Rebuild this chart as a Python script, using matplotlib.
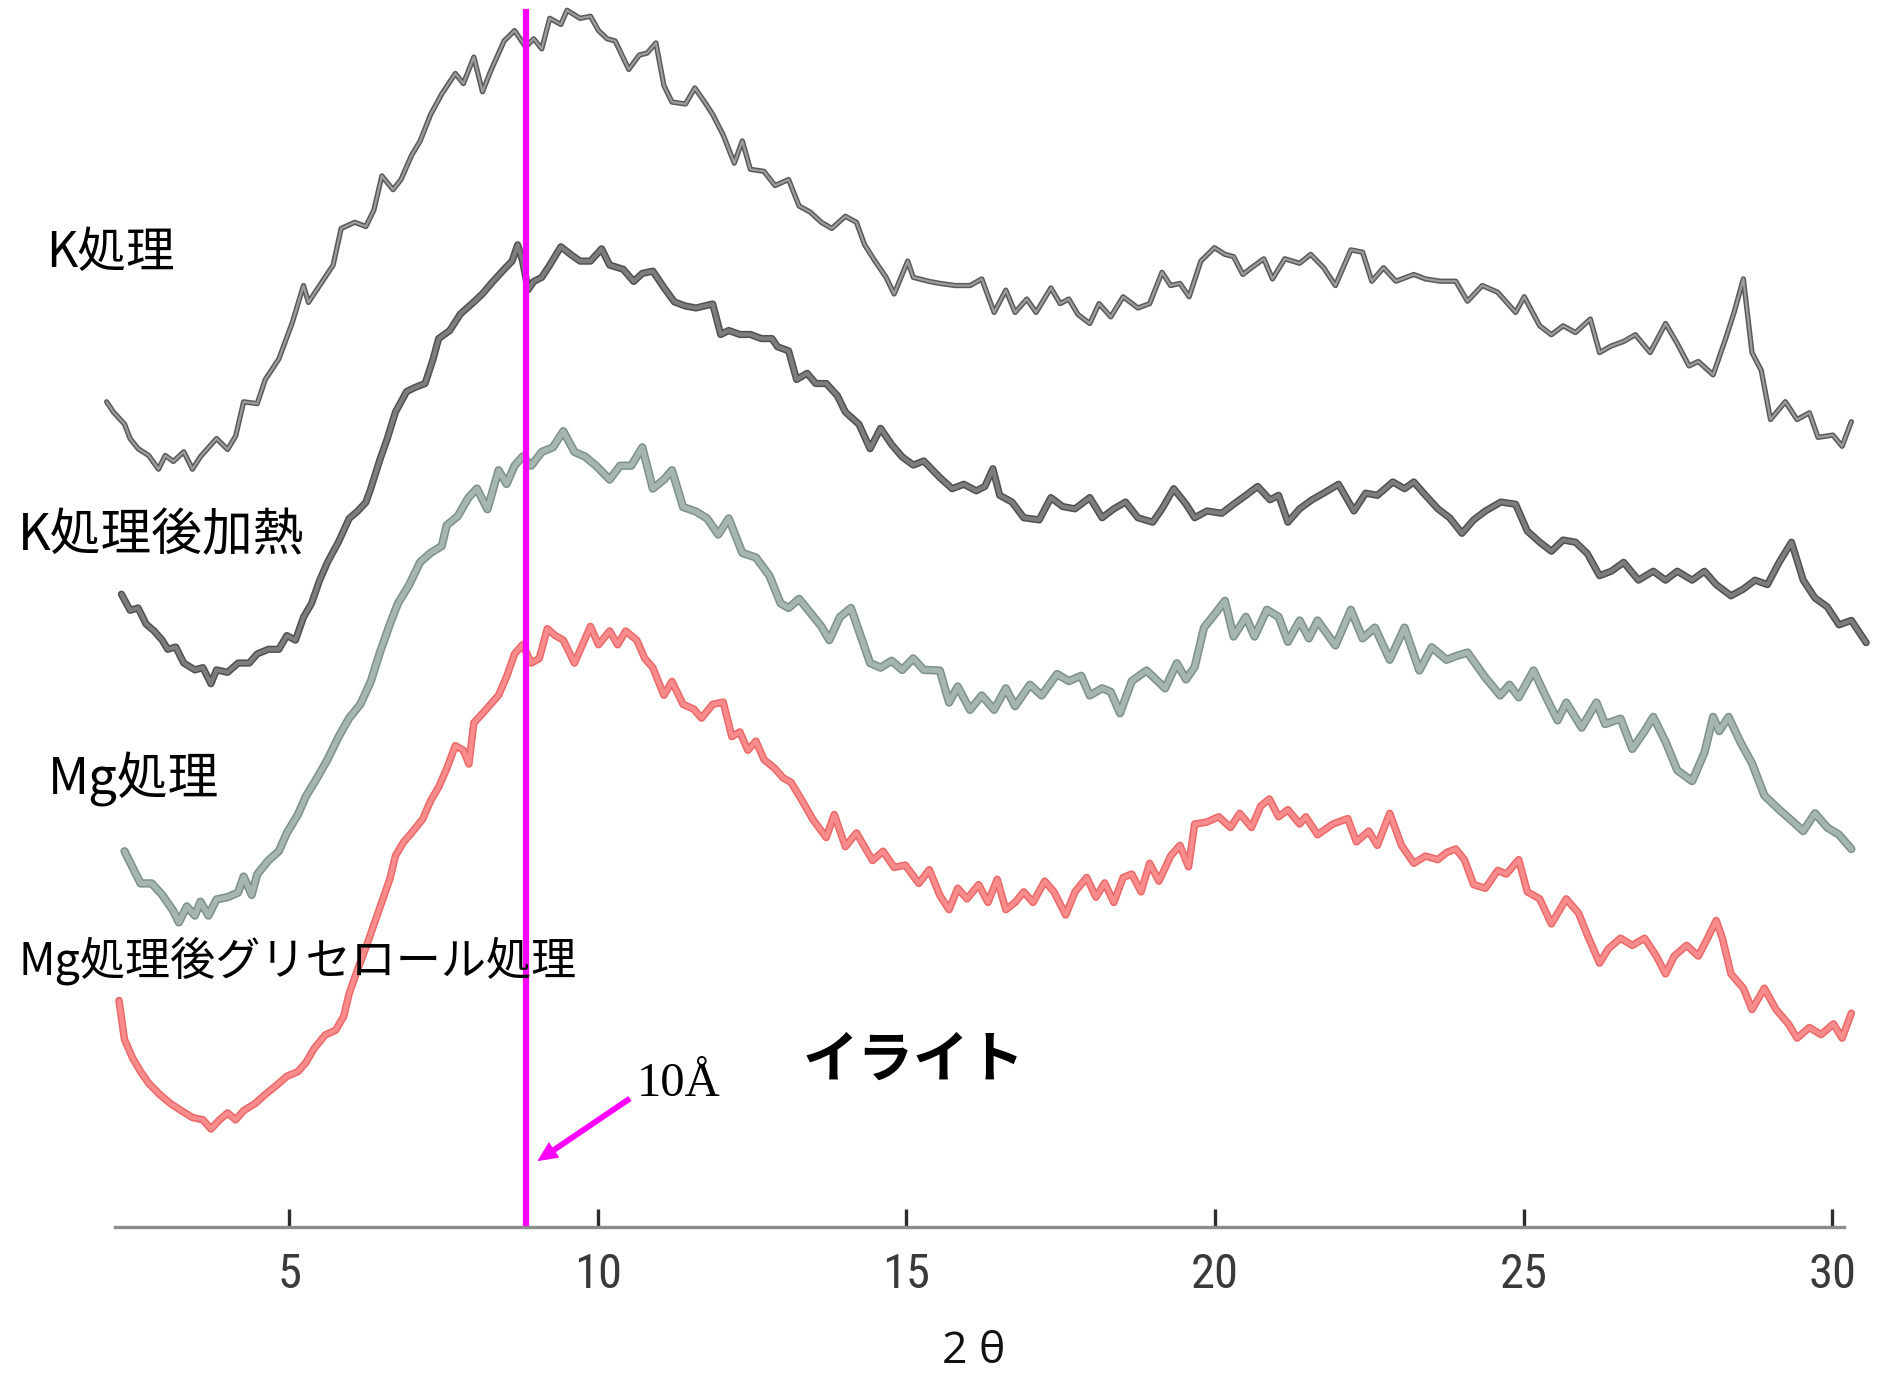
import matplotlib
matplotlib.use("Agg")
import matplotlib.pyplot as plt
from matplotlib import font_manager as fm

# ---------------- data (2θ in degrees, intensity in arbitrary stacked units) ----------------
k_2theta = [2.04, 2.15, 2.33, 2.42, 2.55, 2.72, 2.88, 2.99, 3.12, 3.29, 3.43, 3.56, 3.82, 4.0, 4.13,
            4.26, 4.48, 4.61, 4.83, 5.05, 5.23, 5.31, 5.49, 5.71, 5.84, 6.06, 6.24, 6.37, 6.5, 6.68,
            6.81, 6.98, 7.12, 7.29, 7.47, 7.69, 7.82, 7.99, 8.13, 8.26, 8.48, 8.65, 8.83, 8.96, 9.09,
            9.22, 9.4, 9.5, 9.71, 9.88, 10.01, 10.15, 10.28, 10.5, 10.67, 10.8, 10.94, 11.07, 11.2,
            11.42, 11.57, 11.73, 11.86, 12.03, 12.21, 12.34, 12.47, 12.69, 12.87, 13.09, 13.26, 13.44,
            13.62, 13.79, 14.01, 14.19, 14.32, 14.49, 14.67, 14.8, 15.02, 15.11, 15.37, 15.54, 15.79,
            16.03, 16.22, 16.42, 16.61, 16.76, 16.95, 17.1, 17.34, 17.49, 17.63, 17.78, 17.97, 18.12,
            18.31, 18.51, 18.75, 18.94, 19.14, 19.28, 19.43, 19.58, 19.77, 19.99, 20.16, 20.3, 20.45,
            20.59, 20.79, 20.93, 21.13, 21.37, 21.55, 21.76, 21.95, 22.2, 22.39, 22.54, 22.73, 22.93,
            23.22, 23.41, 23.65, 23.9, 24.09, 24.33, 24.58, 24.87, 25.01, 25.26, 25.45, 25.64, 25.84,
            26.08, 26.23, 26.42, 26.62, 26.81, 27.05, 27.3, 27.49, 27.68, 27.83, 28.07, 28.27, 28.41,
            28.56, 28.7, 28.85, 29.0, 29.24, 29.43, 29.63, 29.77, 30.01, 30.16, 30.31]
k_counts = [684.5, 676, 666, 654, 645.6, 640, 628.6, 640, 635, 643, 628.6, 639, 654, 645, 656,
            684.5, 683, 703, 720, 750.5, 781, 767, 781, 798, 828.4, 833.5, 830, 843.6, 872, 860.6,
            869, 889, 901, 923, 940, 957, 948.6, 970.6, 941.8, 958.7, 984, 992.6, 979, 985.8, 977.4,
            1002.8, 997.7, 1009.5, 1002.8, 1004.5, 992.6, 985.8, 984, 960.4, 972.3, 974, 982.4, 947, 933.3,
            931.7, 945, 933.3, 923, 906, 882.6, 901, 877.5, 875.8, 864, 869, 847, 842,
            833.5, 828.4, 838.5, 833.5, 815, 801.3, 787.8, 774, 801.3, 787.8, 784.4, 782.8, 781,
            781, 786.5, 758.7, 777.2, 758.7, 769.8, 758.7, 779, 766, 769.8, 756.9, 749.5, 766,
            755, 771.7, 762.4, 766, 792, 781, 782.8, 771.7, 801.3, 812.4, 806.9, 805, 790.2,
            795.8, 803.2, 786.5, 803.2, 799.5, 806.9, 795.8, 781, 810.6, 808.7, 784.6, 795.8, 784.6,
            790.2, 786.5, 784.6, 784.6, 768, 781, 775.4, 758.7, 771.7, 747.6, 740.2, 747.6, 742,
            753.2, 725.4, 730.9, 734.6, 740.2, 725.4, 749.5, 732.8, 714.3, 718, 706.9, 736.5, 758.7,
            786.5, 725.4, 710.6, 669.8, 684.6, 669.8, 675.4, 655, 656.9, 647.6, 668]

kheat_2theta = [2.28, 2.42, 2.55, 2.68, 2.81, 2.94, 3.03, 3.16, 3.29, 3.47, 3.6, 3.73, 3.82, 4.0, 4.17,
                4.35, 4.48, 4.66, 4.83, 4.96, 5.1, 5.23, 5.36, 5.49, 5.62, 5.8, 5.97, 6.1, 6.24, 6.32,
                6.46, 6.59, 6.72, 6.9, 7.03, 7.2, 7.33, 7.42, 7.6, 7.77, 7.99, 8.13, 8.3, 8.48, 8.61,
                8.7, 8.78, 8.87, 8.96, 9.09, 9.22, 9.4, 9.57, 9.71, 9.88, 10.06, 10.19, 10.41, 10.58,
                10.72, 10.89, 11.07, 11.24, 11.42, 11.59, 11.86, 11.99, 12.12, 12.3, 12.47, 12.65, 12.82,
                12.91, 13.09, 13.22, 13.39, 13.53, 13.7, 13.88, 14.01, 14.23, 14.41, 14.58, 14.76, 14.93,
                15.11, 15.28, 15.54, 15.74, 15.93, 16.13, 16.27, 16.4, 16.51, 16.71, 16.9, 17.15, 17.34,
                17.53, 17.73, 17.97, 18.17, 18.36, 18.55, 18.75, 18.99, 19.14, 19.33, 19.53, 19.67, 19.87,
                20.11, 20.3, 20.5, 20.69, 20.89, 21.03, 21.18, 21.37, 21.57, 21.76, 22.0, 22.25, 22.44,
                22.63, 22.88, 23.07, 23.22, 23.41, 23.61, 23.8, 24.0, 24.19, 24.38, 24.63, 24.87, 25.06,
                25.26, 25.45, 25.64, 25.84, 26.03, 26.23, 26.42, 26.62, 26.86, 27.1, 27.3, 27.49, 27.73,
                27.93, 28.12, 28.36, 28.56, 28.75, 28.95, 29.14, 29.34, 29.53, 29.72, 29.92, 30.11, 30.31,
                30.55]
kheat_counts = [524.8, 511.5, 513.4, 500, 494.3, 486.7, 479.1, 481, 467.7, 462, 463.9, 450.5, 462, 460, 467.7,
                467.7, 475.3, 479.1, 479.1, 490.5, 486.7, 505.8, 517.2, 536.2, 551.5, 568.6, 587.7, 593.4, 601, 612.5,
                635.3, 654.4, 676, 693, 696.3, 699.7, 720, 737, 743.7, 757.3, 767.4, 774.2, 784.4, 794.5, 801.3,
                814.8, 801.3, 777.6, 784.4, 787.8, 798, 813.2, 806.4, 801.3, 801.3, 811.5, 798, 794.5, 784.4,
                791.1, 793, 779.3, 767.4, 764, 762.4, 765.7, 740.4, 743.7, 740.4, 740.4, 737, 737,
                730.2, 726.8, 703, 708.2, 699.7, 699.7, 689.6, 676, 665.9, 645.6, 662.5, 649, 638.8,
                632, 635.4, 621.7, 612.4, 616.1, 610.6, 614.3, 629, 606.9, 601.3, 588.3, 586.5, 605,
                597.6, 595.7, 605, 588.3, 595.7, 601.3, 588.3, 584.6, 595.7, 612.4, 599.5, 588.3, 593.9,
                592, 599.5, 606.9, 614.3, 603.2, 606.9, 584.6, 595.7, 603.2, 608.7, 616.1, 593.9, 608.7,
                606.9, 618, 612.4, 618, 606.9, 595.7, 588.3, 575.4, 586.5, 593.9, 601.3, 599.5, 577.2,
                568, 560.5, 569.8, 568, 558.7, 540.2, 543.9, 551.3, 536.5, 543.9, 536.5, 543.9, 536.5,
                543.9, 532.8, 523.5, 529.1, 536.5, 532.8, 551.3, 568, 536.5, 521.7, 514.3, 499.4, 503.1,
                484.6]

mg_2theta = [2.33, 2.46, 2.59, 2.77, 2.94, 3.12, 3.21, 3.34, 3.47, 3.56, 3.69, 3.82, 4.0, 4.17, 4.26,
             4.39, 4.48, 4.66, 4.83, 4.96, 5.14, 5.27, 5.45, 5.62, 5.8, 5.97, 6.15, 6.32, 6.46, 6.63,
             6.76, 6.94, 7.12, 7.29, 7.47, 7.55, 7.73, 7.9, 8.04, 8.21, 8.39, 8.52, 8.65, 8.78, 8.92,
             9.09, 9.27, 9.44, 9.62, 9.79, 9.97, 10.19, 10.36, 10.54, 10.72, 10.89, 11.07, 11.2, 11.38,
             11.59, 11.77, 11.95, 12.12, 12.34, 12.56, 12.78, 12.96, 13.09, 13.26, 13.44, 13.62, 13.75,
             13.92, 14.1, 14.23, 14.41, 14.58, 14.76, 14.93, 15.11, 15.28, 15.54, 15.69, 15.83, 16.03,
             16.22, 16.42, 16.61, 16.76, 17.0, 17.19, 17.44, 17.63, 17.83, 17.97, 18.17, 18.31, 18.46,
             18.65, 18.89, 19.19, 19.38, 19.53, 19.67, 19.82, 19.96, 20.16, 20.3, 20.5, 20.64, 20.84,
             21.03, 21.18, 21.37, 21.52, 21.66, 21.95, 22.2, 22.39, 22.59, 22.83, 23.07, 23.31, 23.51,
             23.75, 23.9, 24.09, 24.38, 24.62, 24.77, 24.92, 25.16, 25.35, 25.55, 25.69, 25.94, 26.18,
             26.32, 26.57, 26.76, 26.96, 27.1, 27.3, 27.49, 27.73, 27.93, 28.07, 28.17, 28.32, 28.51,
             28.7, 28.9, 29.14, 29.34, 29.53, 29.72, 29.92, 30.11, 30.31]
mg_counts = [311.5, 298.1, 284.8, 284.8, 275.3, 262, 252.4, 265.7, 258.1, 269.6, 258.1, 271.5, 273.4, 277.2, 290.5,
             275.3, 292.4, 303.8, 311.5, 326.7, 342, 357.2, 372.4, 387.7, 406.7, 422, 433.4, 452.4, 475.3, 500,
             517.2, 532.4, 551.5, 559.1, 564.8, 582, 589.6, 604.8, 612.5, 595.3, 627.7, 616.3, 631.5, 639.1, 631.5,
             642.9, 646.7, 660.1, 642.9, 639.1, 631.5, 620, 631.5, 631.5, 646.7, 612.5, 620, 627.7, 597.2,
             593.4, 587.7, 574.4, 587.7, 559.1, 555.3, 540.1, 517.2, 513.4, 521, 509.6, 498.1, 486.7,
             505.8, 513.4, 494.3, 467.7, 463.9, 469.6, 462, 471.5, 462, 461.5, 434.9, 448.2, 428.9,
             440.8, 428.9, 446.7, 431.9, 449.7, 440.8, 458.6, 452.7, 457.1, 440.8, 446.7, 443.8, 426,
             452.7, 461.5, 446.7, 467.5, 454.1, 464.5, 497.1, 506, 519.3, 489.7, 506, 489.7, 511.9,
             506, 485.3, 503, 488.2, 503, 482.3, 511.9, 488.2, 497.1, 470.4, 497.1, 461.5, 480.8,
             470.4, 473.4, 476.4, 455.6, 440.8, 449.7, 439.3, 461.5, 440.8, 420.1, 434.9, 414.1, 434.9,
             417.1, 421.5, 396.4, 411.2, 423, 402.3, 378.6, 369.7, 393.4, 423, 411.2, 423, 402.3,
             384.5, 357.8, 346, 337.1, 328.2, 343, 331.2, 325.2, 313.4]

mggly_2theta = [2.24, 2.33, 2.46, 2.59, 2.72, 2.9, 3.08, 3.25, 3.43, 3.6, 3.73, 3.87, 4.0, 4.13, 4.26,
                4.44, 4.61, 4.79, 4.96, 5.14, 5.27, 5.4, 5.58, 5.75, 5.88, 5.97, 6.1, 6.24, 6.37, 6.5,
                6.63, 6.72, 6.85, 6.98, 7.16, 7.29, 7.42, 7.55, 7.69, 7.82, 7.91, 7.99, 8.13, 8.26, 8.39,
                8.52, 8.65, 8.78, 8.92, 9.05, 9.18, 9.31, 9.44, 9.62, 9.75, 9.88, 10.01, 10.19, 10.32,
                10.45, 10.63, 10.76, 10.89, 11.07, 11.2, 11.38, 11.55, 11.68, 11.86, 12.03, 12.17, 12.3,
                12.43, 12.56, 12.69, 12.87, 13.0, 13.13, 13.31, 13.48, 13.7, 13.83, 14.01, 14.19, 14.32,
                14.45, 14.62, 14.8, 14.98, 15.2, 15.37, 15.54, 15.69, 15.83, 15.98, 16.17, 16.32, 16.47,
                16.61, 16.76, 16.9, 17.05, 17.24, 17.39, 17.58, 17.73, 17.92, 18.07, 18.21, 18.36, 18.51,
                18.65, 18.8, 18.94, 19.09, 19.28, 19.43, 19.57, 19.67, 19.86, 20.06, 20.25, 20.4, 20.59,
                20.74, 20.88, 21.03, 21.18, 21.37, 21.47, 21.66, 21.91, 22.15, 22.29, 22.49, 22.63, 22.83,
                23.02, 23.22, 23.41, 23.61, 23.75, 23.9, 24.04, 24.19, 24.38, 24.58, 24.72, 24.92, 25.06,
                25.26, 25.45, 25.69, 25.89, 26.03, 26.23, 26.37, 26.57, 26.76, 26.96, 27.15, 27.3, 27.44,
                27.64, 27.83, 27.98, 28.12, 28.22, 28.36, 28.56, 28.7, 28.9, 29.09, 29.29, 29.43, 29.63,
                29.82, 30.02, 30.16, 30.31]
mggly_counts = [187.6, 155.2, 140, 128.6, 119, 109.6, 101.9, 96.2, 90.5, 88.6, 81, 88.6, 94.3, 88.6, 96.2,
                101.9, 109.6, 117.1, 124.7, 128.6, 136.2, 147.6, 159, 162.9, 174.3, 193.4, 212.4, 231.5, 250.5, 269.6,
                288.6, 307.7, 319, 326.7, 338.1, 353.4, 364.8, 380, 399.1, 395.3, 383.9, 418.1, 425.8, 433.4, 441,
                456.2, 475.3, 482.9, 467.7, 471.5, 496.2, 490.5, 486.7, 467.7, 482.9, 498.1, 482.9, 494.3, 482.9,
                494.3, 486.7, 471.5, 463.9, 441, 452.4, 433.4, 429.6, 422, 433.4, 435.3, 406.7, 410.5,
                395.3, 402.9, 387.7, 380, 372.4, 368.6, 353.4, 338.1, 322.9, 342, 315.3, 326.7, 315.3,
                303.8, 311.5, 298.1, 300, 284.8, 296.2, 274.9, 263, 280.8, 272, 283.8, 269, 288.2,
                263, 269, 277.8, 269, 286.7, 277.8, 258.6, 277.8, 289.7, 273.4, 285.2, 269, 289.7,
                292.6, 277.8, 301.5, 286.7, 307.5, 316.4, 298.6, 334.1, 335.6, 340.1, 331.2, 343, 331.2,
                349, 354.9, 340.1, 346, 334.1, 340.1, 325.2, 334.1, 338.6, 319.3, 328.2, 316.4, 343,
                316.4, 301.5, 307.5, 304.5, 310.4, 313.4, 304.5, 283.8, 280.8, 295.6, 292.6, 304.5, 277.8,
                272, 251.2, 272, 260.1, 242.3, 218.6, 230.4, 239.3, 233.4, 239.3, 224.5, 209.7, 224.5,
                233.4, 224.5, 239.3, 254.1, 239.3, 209.7, 197.8, 180.1, 197.8, 180.1, 168.2, 156.4, 165.2,
                159.3, 168.2, 156.4, 177.1]

series_labels = ["K処理", "K処理後加熱", "Mg処理", "Mg処理後グリセロール処理"]
tick_positions = [5, 10, 15, 20, 25, 30]
tick_labels = ["5", "10", "15", "20", "25", "30"]
mineral_name = "イライト"
d_spacing_label = "10Å"
d_spacing_2theta = 8.83
x_axis_label = "2 θ"

# ---------------- fonts ----------------
JP = ["Noto Sans CJK JP", "DejaVu Sans"]
MAGENTA = "#ff00ff"


def narrow_tick_font(size):
    """Pick a narrow sans face for the scale numbers if one is installed."""
    preferred = ["Liberation Sans Narrow", "Roboto Condensed", "Noto Sans Condensed",
                 "Open Sans Condensed", "DejaVu Sans Condensed", "Arial Narrow"]
    entries = fm.fontManager.ttflist
    for name in preferred:
        for f in entries:
            if f.name == name and f.style == "normal" and f.weight in (300, 400, "normal", "light"):
                return fm.FontProperties(fname=f.fname, size=size)
    for f in entries:
        stretch = str(f.stretch)
        if ("ondensed" in stretch or "Narrow" in f.name or "Condensed" in f.name) \
                and f.style == "normal" and "Mono" not in f.name and "Serif" not in f.name \
                and f.weight in (300, 400, "normal", "light"):
            return fm.FontProperties(fname=f.fname, size=size)
    return fm.FontProperties(family=["Liberation Sans", "DejaVu Sans"], size=size * 0.86)


# ---------------- figure ----------------
fig = plt.figure(figsize=(18.9, 13.76), dpi=100)
fig.patch.set_facecolor("white")
ax = fig.add_axes([0.0606, 0.1086, 0.9152, 0.8914])
ax.patch.set_alpha(0)
ax.set_xlim(2.168, 30.195)
ax.set_ylim(0, 1018)

for side in ("left", "top", "right"):
    ax.spines[side].set_visible(False)
ax.spines["bottom"].set_color("#8c8c8c")
ax.spines["bottom"].set_linewidth(2.4)
ax.set_yticks([])
ax.set_xticks(tick_positions, tick_labels)
ax.tick_params(axis="x", direction="in", length=13, width=2.4, color="#2b2b2b",
               pad=18, labelcolor="#3a3a3a")
tick_font = narrow_tick_font(35)
for lbl in ax.get_xticklabels():
    lbl.set_fontproperties(tick_font)

# diffraction traces: a darker edge under a lighter core, like a scanned pen trace
traces = [
    (k_2theta, k_counts, "#5a5a5a", "#9d9d9d", 3.8, 1.6),
    (kheat_2theta, kheat_counts, "#505050", "#7d7d7d", 5.2, 3.0),
    (mg_2theta, mg_counts, "#7d918a", "#a4b6ae", 6.0, 3.8),
    (mggly_2theta, mggly_counts, "#ea6868", "#f88c8c", 5.4, 3.2),
]
for xs, ys, edge, core, w_edge, w_core in traces:
    ax.plot(xs, ys, color=edge, lw=w_edge, solid_joinstyle="round",
            solid_capstyle="round", clip_on=False, zorder=2)
    ax.plot(xs, ys, color=core, lw=w_core, solid_joinstyle="round",
            solid_capstyle="round", clip_on=False, zorder=3)

# 10 Å reflection marker
ax.axvline(d_spacing_2theta, ymin=0.003, ymax=0.99, color=MAGENTA, lw=4.5, zorder=6)
ax.annotate("", xy=(9.04, 55), xytext=(10.51, 106),
            arrowprops=dict(facecolor=MAGENTA, edgecolor=MAGENTA, width=3.2,
                            headwidth=12, headlength=13, shrink=0),
            annotation_clip=False, zorder=6)
fig.text(528 / 1568, 1 - 900 / 1142, d_spacing_label, fontsize=35,
         family=["Liberation Serif", "DejaVu Serif"], ha="left", va="center", color="black")

# sample labels
label_pos = [(38, 210), (15, 445), (40, 647), (15, 797)]
label_sizes = [35, 36.5, 36.5, 32.5]
for text, (px, py), fs in zip(series_labels, label_pos, label_sizes):
    fig.text(px / 1568, 1 - py / 1142, text, fontsize=fs, family=JP,
             ha="left", va="center", color="black")

fig.text(758 / 1568, 1 - 880 / 1142, mineral_name, fontsize=40, family=JP,
         fontweight="bold", ha="center", va="center", color="black")

fig.text(808 / 1568, 1 - 1122 / 1142, x_axis_label, fontsize=32,
         family=["Open Sans", "DejaVu Sans"], ha="center", va="center", color="#111111")

fig.savefig("out.png", dpi=100, facecolor="white")
